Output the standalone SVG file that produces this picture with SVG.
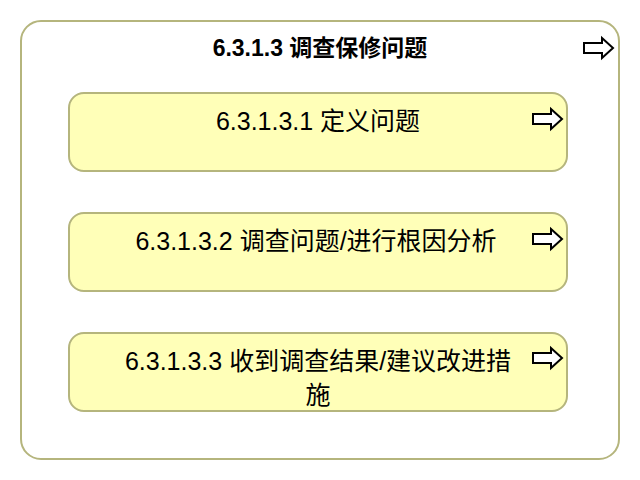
<svg xmlns="http://www.w3.org/2000/svg" xmlns:xlink="http://www.w3.org/1999/xlink" width="640" height="480" viewBox="0 0 640 480">
<style>
.outer{fill:#ffffff;stroke:#b5b57d;stroke-width:2}
.box{fill:#ffffb8;stroke:#b5b57d;stroke-width:2}
.t{font-family:"Liberation Sans","Noto Sans CJK SC",sans-serif;font-size:25px;fill:#000;text-anchor:middle}
.title{font-weight:bold;font-size:23px}
.arr{fill:#ffffff;stroke:#000;stroke-width:2;stroke-linejoin:miter}
</style>
<defs>
<path id="arrow" class="arr" d="M0,-5 L18,-5 L18,-10 L29,0 L18,10 L18,5 L0,5 Z"/>
</defs>
<g id="container">
<rect class="outer" x="21" y="21" width="598" height="438" rx="20" ry="20"/>
<text class="t title" x="320" y="56">6.3.1.3 调查保修问题</text>
<use xlink:href="#arrow" href="#arrow" x="584" y="48"/>
</g>
<g id="node1">
<rect class="box" x="69" y="93" width="498" height="78" rx="15" ry="15"/>
<text class="t" x="318" y="130">6.3.1.3.1 定义问题</text>
<use xlink:href="#arrow" href="#arrow" x="533" y="119"/>
</g>
<g id="node2">
<rect class="box" x="69" y="213" width="498" height="78" rx="15" ry="15"/>
<text class="t" x="316" y="250">6.3.1.3.2 调查问题/进行根因分析</text>
<use xlink:href="#arrow" href="#arrow" x="533" y="239"/>
</g>
<g id="node3">
<rect class="box" x="69" y="333" width="498" height="78" rx="15" ry="15"/>
<text class="t" x="318" y="370">6.3.1.3.3 收到调查结果/建议改进措</text>
<text class="t" x="318" y="404">施</text>
<use xlink:href="#arrow" href="#arrow" x="533" y="358"/>
</g>
<g id="connectors"></g>
</svg>
